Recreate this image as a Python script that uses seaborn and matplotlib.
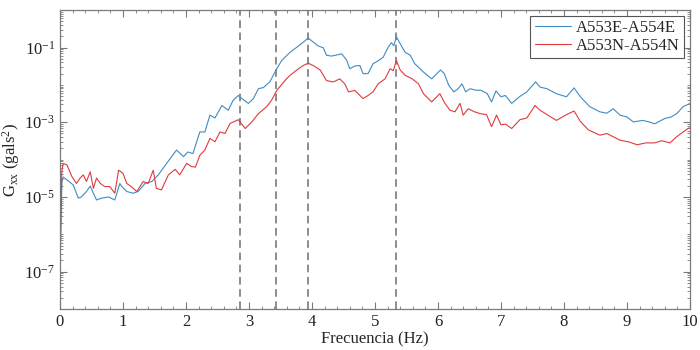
import numpy as np
import pandas as pd
import seaborn as sns
import matplotlib
matplotlib.use("Agg")
import matplotlib.pyplot as plt
from matplotlib.ticker import FixedLocator, LogLocator, NullFormatter, MultipleLocator

# Espectro cruzado
freq_e = [0.0, 0.03, 0.05, 0.13, 0.21, 0.29, 0.34, 0.42, 0.48, 0.53, 0.58, 0.66, 0.77, 0.87, 0.95, 0.98,
          1.06, 1.16, 1.24, 1.35, 1.46, 1.56, 1.65, 1.75, 1.85, 1.96, 2.03, 2.11, 2.22, 2.30, 2.38, 2.46,
          2.57, 2.67, 2.75, 2.83, 2.91, 2.99, 3.07, 3.15, 3.23, 3.33, 3.44, 3.52, 3.65, 3.76, 3.86, 3.94,
          4.02, 4.10, 4.18, 4.23, 4.31, 4.39, 4.47, 4.55, 4.60, 4.68, 4.76, 4.81, 4.89, 4.97, 5.05, 5.13,
          5.21, 5.26, 5.30, 5.34, 5.40, 5.48, 5.56, 5.63, 5.77, 5.90, 6.04, 6.10, 6.17, 6.25, 6.32, 6.38,
          6.44, 6.51, 6.60, 6.68, 6.78, 6.85, 6.92, 7.00, 7.07, 7.17, 7.30, 7.41, 7.55, 7.62, 7.73, 7.88,
          8.04, 8.16, 8.26, 8.41, 8.57, 8.68, 8.78, 8.89, 9.00, 9.10, 9.25, 9.35, 9.44, 9.60, 9.70, 9.79,
          9.89, 10.0]
gxx_e = [1.0e-7, 2.5e-5, 3.4e-5, 2.7e-5, 2.1e-5, 9.3e-6, 1.0e-5, 1.4e-5, 1.95e-5, 1.26e-5, 8.3e-6, 9.3e-6,
         1.0e-5, 8.3e-6, 2.3e-5, 1.9e-5, 1.4e-5, 1.26e-5, 1.4e-5, 2.3e-5, 2.6e-5, 3.9e-5, 6.3e-5, 1.07e-4,
         1.8e-4, 1.2e-4, 1.6e-4, 1.45e-4, 5.5e-4, 5.5e-4, 1.55e-3, 1.3e-3, 2.8e-3, 2.1e-3, 3.9e-3, 5.2e-3,
         4.0e-3, 3.2e-3, 4.3e-3, 7.9e-3, 8.5e-3, 1.2e-2, 2.7e-2, 4.5e-2, 7.4e-2, 1.02e-1, 1.38e-1, 1.8e-1,
         1.4e-1, 1.1e-1, 9.8e-2, 6.2e-2, 5.9e-2, 6.3e-2, 6.8e-2, 4.6e-2, 2.7e-2, 3.2e-2, 3.3e-2, 2.0e-2,
         2.0e-2, 3.7e-2, 4.4e-2, 5.5e-2, 1.02e-1, 1.35e-1, 1.12e-1, 1.95e-1, 1.26e-1, 7.4e-2, 6.2e-2, 3.7e-2,
         2.2e-2, 1.45e-2, 2.5e-2, 2.0e-2, 9.8e-3, 6.5e-3, 7.9e-3, 1.07e-2, 6.5e-3, 7.9e-3, 7.2e-3, 7.2e-3,
         5.9e-3, 3.5e-3, 6.9e-3, 4.8e-3, 5.2e-3, 3.2e-3, 4.9e-3, 6.5e-3, 1.2e-2, 8.7e-3, 7.9e-3, 5.8e-3,
         4.8e-3, 8.3e-3, 4.8e-3, 2.6e-3, 1.9e-3, 1.74e-3, 2.3e-3, 1.55e-3, 1.38e-3, 1.02e-3, 1.12e-3, 1.02e-3,
         9.1e-4, 1.26e-3, 1.38e-3, 1.7e-3, 2.6e-3, 3.2e-3]

freq_n = [0.0, 0.03, 0.05, 0.11, 0.19, 0.26, 0.32, 0.37, 0.42, 0.48, 0.53, 0.58, 0.64, 0.71, 0.79, 0.87,
          0.93, 1.00, 1.06, 1.13, 1.22, 1.32, 1.40, 1.48, 1.53, 1.61, 1.72, 1.83, 1.90, 2.01, 2.09, 2.15,
          2.22, 2.30, 2.38, 2.46, 2.54, 2.62, 2.70, 2.83, 2.94, 3.04, 3.15, 3.28, 3.36, 3.44, 3.57, 3.65,
          3.76, 3.86, 3.94, 4.02, 4.13, 4.23, 4.34, 4.44, 4.52, 4.58, 4.68, 4.76, 4.81, 4.89, 4.97, 5.05,
          5.16, 5.24, 5.29, 5.34, 5.40, 5.48, 5.59, 5.69, 5.77, 5.90, 6.03, 6.11, 6.19, 6.27, 6.35, 6.40,
          6.48, 6.58, 6.67, 6.77, 6.85, 6.93, 7.00, 7.07, 7.17, 7.30, 7.41, 7.54, 7.62, 7.73, 7.88, 8.04,
          8.16, 8.26, 8.39, 8.57, 8.68, 8.78, 8.89, 9.02, 9.16, 9.30, 9.44, 9.55, 9.68, 9.79, 9.89, 9.97,
          10.0]
gxx_n = [1.6e-7, 5.0e-5, 7.9e-5, 7.2e-5, 3.5e-5, 2.3e-5, 3.2e-5, 3.9e-5, 2.6e-5, 4.7e-5, 1.7e-5, 3.2e-5,
         2.3e-5, 1.9e-5, 1.9e-5, 1.26e-5, 5.2e-5, 4.3e-5, 2.3e-5, 1.9e-5, 1.4e-5, 2.6e-5, 2.3e-5, 5.2e-5,
         1.7e-5, 1.55e-5, 3.9e-5, 5.5e-5, 3.9e-5, 7.9e-5, 6.5e-5, 6.3e-5, 1.3e-4, 1.8e-4, 3.7e-4, 3.0e-4,
         5.5e-4, 5.0e-4, 9.3e-4, 1.17e-3, 6.8e-4, 1.0e-3, 1.7e-3, 2.6e-3, 3.9e-3, 7.1e-3, 1.3e-2, 1.8e-2,
         2.5e-2, 3.3e-2, 3.8e-2, 3.3e-2, 2.5e-2, 1.3e-2, 1.2e-2, 1.45e-2, 1.07e-2, 6.5e-3, 7.1e-3, 5.2e-3,
         4.3e-3, 5.2e-3, 6.5e-3, 1.07e-2, 1.45e-2, 2.7e-2, 2.4e-2, 4.5e-2, 2.5e-2, 1.8e-2, 1.45e-2, 1.07e-2,
         5.8e-3, 3.5e-3, 5.8e-3, 3.2e-3, 2.1e-3, 1.9e-3, 3.2e-3, 1.55e-3, 2.3e-3, 1.9e-3, 1.7e-3, 1.6e-3,
         7.6e-4, 1.55e-3, 8.5e-4, 8.9e-4, 6.8e-4, 1.17e-3, 1.3e-3, 2.8e-3, 2.1e-3, 1.6e-3, 1.12e-3, 1.6e-3,
         2.0e-3, 1.05e-3, 6.2e-4, 4.5e-4, 5.0e-4, 4.1e-4, 3.3e-4, 3.0e-4, 2.5e-4, 2.8e-4, 2.8e-4, 3.2e-4,
         2.8e-4, 4.1e-4, 5.5e-4, 6.8e-4, 7.1e-4]

# Frecuencias identificadas (lineas discontinuas)
picos = [2.86, 3.43, 3.94, 5.33]

serie_e = "A553E-A554E"
serie_n = "A553N-A554N"

df = pd.concat([
    pd.DataFrame({"f": freq_e, "g": gxx_e, "serie": serie_e}),
    pd.DataFrame({"f": freq_n, "g": gxx_n, "serie": serie_n}),
])

sns.set_style("ticks")
plt.rcParams["font.family"] = ["Liberation Serif", "DejaVu Serif"]
plt.rcParams["mathtext.fontset"] = "custom"
plt.rcParams["mathtext.rm"] = "Liberation Serif"
plt.rcParams["mathtext.it"] = "Liberation Serif:italic"

fig = plt.figure(figsize=(7, 3.5), dpi=100)
ax = fig.add_axes([0.0857, 0.117, 0.9, 0.854])

for x in picos:
    ax.axvline(x, color="#6e6e6e", linestyle=(0, (5, 3)), linewidth=1.1, zorder=1)

sns.lineplot(data=df, x="f", y="g", hue="serie", palette=[ "#3d8cc4", "#e03a3c"],
             estimator=None, sort=False, linewidth=0.8, ax=ax, zorder=2)

ax.set_yscale("log")
ax.set_xlim(0, 10)
ax.set_ylim(1e-8, 1)
ax.yaxis.set_major_locator(FixedLocator([1e-7, 1e-5, 1e-3, 1e-1]))
ax.yaxis.set_minor_locator(LogLocator(base=10, subs=np.arange(1, 10), numticks=20))
ax.yaxis.set_minor_formatter(NullFormatter())
ax.xaxis.set_major_locator(MultipleLocator(1))
ax.xaxis.set_minor_locator(MultipleLocator(0.2))

ax.tick_params(which="both", direction="in", top=True, right=True, color="#7a7a7a",
               labelsize=12, labelcolor="#222222")
ax.tick_params(which="major", length=5, width=0.8)
ax.tick_params(which="minor", length=2.5, width=0.6)
for s in ax.spines.values():
    s.set_color("#7a7a7a")
    s.set_linewidth(0.9)

ax.set_xlabel("Frecuencia (Hz)", fontsize=12, labelpad=1)
ax.set_ylabel(r"G$_{\mathrm{xx}}$ (gals$^2$)", fontsize=12, labelpad=2)

leg = ax.legend(loc="upper right", fontsize=12, frameon=True, fancybox=False, framealpha=1,
                edgecolor="#555555", borderaxespad=0.35, handlelength=2.2, handletextpad=0.3,
                borderpad=0.25, labelspacing=0.1)
leg.get_frame().set_linewidth(0.8)
leg.set_title(None)

fig.savefig("out.png", dpi=100)
